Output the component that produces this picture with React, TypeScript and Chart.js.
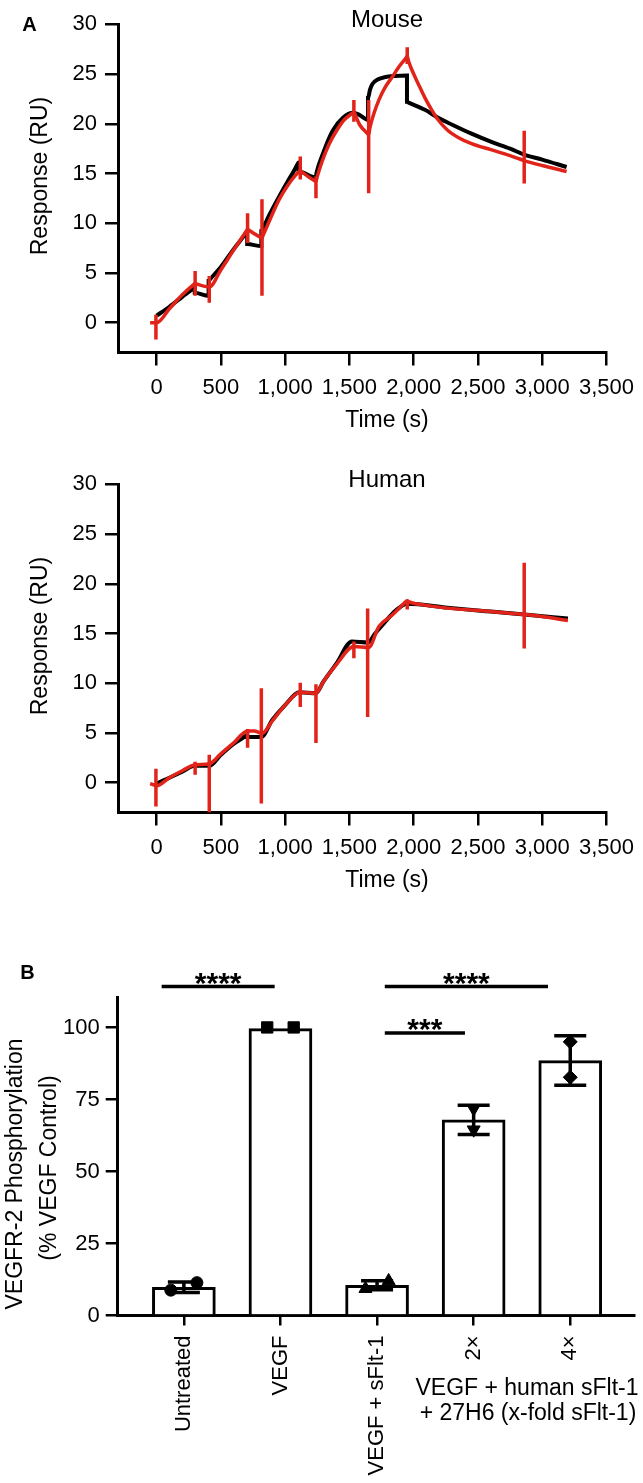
import React, { useEffect, useRef } from 'react';
import { Chart, registerables } from 'chart.js';

Chart.register(...registerables);

const FONT_FAMILY = '"Liberation Sans", Arial, Helvetica, sans-serif';
const INK = '#000000';
const FIT_RED = '#e2231a';

// ---------------- Panel A : Mouse ----------------
const mouseObsTime = [0, 100, 200, 290, 297, 297, 405, 405, 415, 500, 600, 695, 705, 705, 815, 815, 830, 880, 950, 1020, 1066, 1095, 1105, 1105, 1238, 1245, 1300, 1370, 1450, 1530, 1577, 1645, 1645, 1660, 1679, 1720, 1781, 1850, 1948, 1948, 1965, 2088, 2190, 2300, 2450, 2600, 2750, 2860, 3000, 3190];
const mouseObsResp = [0.7, 1.6, 2.6, 3.5, 3.6, 3.0, 2.7, 4.2, 4.35, 5.6, 7.4, 9.0, 9.2, 7.9, 7.7, 9.2, 9.55, 10.9, 12.6, 14.2, 15.2, 15.9, 16.1, 15.2, 14.6, 15.1, 17.2, 19.3, 20.6, 21.1, 20.9, 20.4, 22.6, 23.4, 24.0, 24.45, 24.7, 24.8, 24.85, 22.2, 22.1, 21.4, 20.6, 19.9, 19.0, 18.2, 17.5, 16.9, 16.4, 15.65];
const mouseFitTime = [-50, 0, 100, 200, 290, 300, 310, 410, 500, 600, 700, 708, 716, 812, 820, 828, 880, 950, 1020, 1080, 1110, 1118, 1126, 1232, 1240, 1250, 1290, 1340, 1400, 1460, 1527, 1535, 1545, 1580, 1642, 1650, 1660, 1690, 1730, 1780, 1833, 1890, 1940, 1950, 1960, 1990, 2040, 2088, 2140, 2190, 2260, 2350, 2450, 2600, 2750, 2860, 3000, 3190];
const mouseFitResp = [0, 0, 1.4, 2.8, 3.85, 3.95, 3.9, 3.6, 5.3, 7.3, 9.25, 9.4, 9.32, 8.55, 8.5, 8.75, 10.3, 12.3, 13.8, 14.8, 15.2, 15.3, 15.2, 14.25, 14.2, 14.7, 16.3, 17.9, 19.3, 20.4, 21.1, 21.2, 20.9, 19.9, 19.0, 18.9, 19.6, 21.0, 22.4, 23.7, 24.7, 25.8, 26.6, 26.8, 26.3, 25.3, 23.9, 22.6, 21.4, 20.4, 19.4, 18.6, 18.0, 17.4, 16.8, 16.3, 15.8, 15.2];
const mouseSpikeTime = [-5, 300, 410, 708, 820, 1118, 1240, 1535, 1650, 1950, 2860];
const mouseSpikeTop = [0.8, 5.2, 4.7, 11.0, 12.4, 16.7, 14.7, 22.4, 22.4, 27.7, 19.3];
const mouseSpikeBottom = [-1.7, 2.7, 2.0, 8.0, 2.7, 14.4, 12.5, 20.2, 13.0, 26.0, 14.0];

// ---------------- Panel A : Human ----------------
const humanObsTime = [0, 100, 200, 297, 410, 500, 600, 700, 705, 705, 815, 900, 1000, 1110, 1240, 1300, 1400, 1520, 1645, 1700, 1780, 1860, 1950, 2262, 2600, 2862, 3200];
const humanObsResp = [-0.1, 0.5, 1.1, 1.7, 1.7, 2.8, 3.9, 4.75, 4.8, 4.6, 4.6, 6.3, 7.8, 9.1, 9.0, 10.2, 12.0, 14.2, 14.1, 15.0, 16.2, 17.3, 18.0, 17.6, 17.2, 16.9, 16.5];
const humanFitTime = [-50, 0, 100, 200, 300, 410, 500, 600, 708, 760, 820, 900, 1000, 1118, 1240, 1300, 1400, 1535, 1650, 1730, 1833, 1940, 1950, 1960, 2088, 2262, 2600, 2862, 3000, 3200];
const humanFitResp = [-0.1, -0.3, 0.5, 1.2, 1.8, 1.9, 2.9, 4.0, 5.2, 5.2, 4.95, 6.2, 7.8, 9.1, 9.0, 10.2, 11.9, 13.7, 13.6, 15.7, 16.85, 18.2, 18.3, 18.2, 17.85, 17.55, 17.2, 16.9, 16.7, 16.3];
const humanSpikeTime = [-5, 300, 410, 708, 815, 1118, 1240, 1535, 1642, 1950, 2860];
const humanSpikeTop = [1.4, 2.1, 2.8, 5.4, 9.5, 10.05, 9.9, 14.2, 17.5, 18.4, 22.1];
const humanSpikeBottom = [-2.4, 0.8, -3.0, 3.5, -2.1, 7.6, 4.0, 12.5, 6.6, 17.4, 13.5];

const timeTicks = [0, 500, 1000, 1500, 2000, 2500, 3000, 3500];
const responseTicks = [0, 5, 10, 15, 20, 25, 30];

// ---------------- Panel B ----------------
const groupLabels = ['Untreated', 'VEGF', 'VEGF + sFlt-1', '2×', '4×'];
const groupMeans = [9.8, 99.6, 10.5, 67.9, 88.5];
const groupSD = [1.8, 0, 1.6, 5.1, 8.6];
const replicateOne = [8.8, 100, 9.3, 71.8, 95.0];
const replicateTwo = [11.4, 100, 12.0, 64.5, 82.7];
const replicateStyle = ['circle', 'rect', 'triangle', 'triangle', 'rectRot'];
const replicateRotation = [0, 0, 0, 180, 0];
const replicateSpread = [0.135, 0.137, 0.12, 0, 0];
const phosphoTicks = [0, 25, 50, 75, 100];
const sigFrom = [-0.23, 2.08, 2.08];
const sigTo = [0.94, 3.77, 2.91];
const sigLevel = [114.2, 114.2, 98.1];
const sigText = ['****', '****', '***'];

type TextItem = { text: string; x: number; y: number; size: number; bold?: boolean; rotate?: number };

function textPlugin(items: TextItem[]) {
  return {
    id: 'panelTexts',
    afterDraw(chart: any) {
      const ctx = chart.ctx;
      items.forEach((it) => {
        ctx.save();
        ctx.font = `${it.bold ? 'bold ' : ''}${it.size}px ${FONT_FAMILY}`;
        ctx.fillStyle = INK;
        ctx.textAlign = 'center';
        ctx.textBaseline = 'middle';
        ctx.translate(it.x, it.y);
        if (it.rotate) ctx.rotate(it.rotate);
        ctx.fillText(it.text, 0, 0);
        ctx.restore();
      });
    },
  };
}

const fmt = (v: number) => String(v).replace(/\B(?=(\d{3})+(?!\d))/g, ',');

const axisGrid = (len: number) => ({
  display: true,
  drawOnChartArea: false,
  drawTicks: true,
  tickLength: len,
  color: INK,
  lineWidth: 2.5,
  offset: false,
});
const axisBorder = { display: true, color: INK, width: 3 };
const tickFont = { family: FONT_FAMILY, size: 22 };

function sensorgramConfig(
  obsT: number[], obsV: number[], fitT: number[], fitV: number[],
  spT: number[], spTop: number[], spBot: number[], title: string, panelLetter: string | null
): any {
  const obs = obsT.map((t, i) => ({ x: t, y: obsV[i] }));
  const fit = fitT.map((t, i) => ({ x: t, y: fitV[i] }));
  const spikes: any[] = [];
  spT.forEach((t, i) => {
    spikes.push({ x: t, y: spTop[i] }, { x: t, y: spBot[i] }, { x: t, y: null });
  });
  const texts: TextItem[] = [
    { text: title, x: 387, y: 20, size: 24 },
    { text: 'Response (RU)', x: 41, y: 176, size: 23, rotate: -Math.PI / 2 },
    { text: 'Time (s)', x: 387, y: 421, size: 23 },
  ];
  if (panelLetter) texts.push({ text: panelLetter, x: 29.5, y: 25, size: 20, bold: true });
  return {
    type: 'line',
    data: {
      datasets: [
        { data: spikes, borderColor: FIT_RED, borderWidth: 3.5, pointRadius: 0, tension: 0, spanGaps: false, order: 0, borderCapStyle: 'butt' },
        { data: fit, borderColor: FIT_RED, borderWidth: 3.5, pointRadius: 0, cubicInterpolationMode: 'monotone', order: 1 },
        { data: obs, borderColor: INK, borderWidth: 4, pointRadius: 0, cubicInterpolationMode: 'monotone', order: 2 },
      ],
    },
    options: {
      responsive: false,
      maintainAspectRatio: false,
      animation: false,
      events: [],
      layout: { padding: { top: 24.3, right: 29, bottom: 0, left: 0 } },
      plugins: { legend: { display: false }, tooltip: { enabled: false }, title: { display: false } },
      scales: {
        x: {
          type: 'linear',
          min: -300,
          max: 3500,
          afterBuildTicks: (s: any) => { s.ticks = timeTicks.map((v) => ({ value: v })); },
          afterFit: (s: any) => { s.height = 107.5; },
          ticks: { autoSkip: false, minRotation: 0, maxRotation: 0, padding: 9, color: INK, font: tickFont, callback: (v: any) => fmt(Number(v)) },
          grid: axisGrid(13),
          border: axisBorder,
        },
        y: {
          type: 'linear',
          min: -3,
          max: 30,
          afterBuildTicks: (s: any) => { s.ticks = responseTicks.map((v) => ({ value: v })); },
          afterFit: (s: any) => { s.width = 118; },
          ticks: { padding: 8, color: INK, font: tickFont, callback: (v: any) => String(v) },
          grid: axisGrid(13),
          border: axisBorder,
        },
      },
    },
    plugins: [textPlugin(texts)],
  };
}

const errorBarPlugin = {
  id: 'errorBars',
  afterDatasetDraw(chart: any, args: any) {
    if (args.meta.type !== 'bar') return;
    const { ctx } = chart;
    const xs = chart.scales.x;
    const ys = chart.scales.y;
    ctx.save();
    ctx.strokeStyle = INK;
    ctx.lineWidth = 3.5;
    groupMeans.forEach((m, i) => {
      const sd = groupSD[i];
      if (!sd) return;
      const x = xs.getPixelForValue(i);
      const yTop = ys.getPixelForValue(m + sd);
      const yBot = ys.getPixelForValue(m - sd);
      ctx.beginPath();
      ctx.moveTo(x, yTop);
      ctx.lineTo(x, yBot);
      ctx.moveTo(x - 16, yTop);
      ctx.lineTo(x + 16, yTop);
      ctx.moveTo(x - 16, yBot);
      ctx.lineTo(x + 16, yBot);
      ctx.stroke();
    });
    ctx.restore();
  },
};

const significancePlugin = {
  id: 'significance',
  afterDraw(chart: any) {
    const { ctx } = chart;
    const xs = chart.scales.x;
    const ys = chart.scales.y;
    ctx.save();
    ctx.strokeStyle = INK;
    ctx.fillStyle = INK;
    ctx.lineWidth = 3.5;
    ctx.font = `bold 30px ${FONT_FAMILY}`;
    ctx.textAlign = 'center';
    ctx.textBaseline = 'alphabetic';
    sigText.forEach((label, i) => {
      const x1 = xs.getPixelForValue(sigFrom[i]);
      const x2 = xs.getPixelForValue(sigTo[i]);
      const y = ys.getPixelForValue(sigLevel[i]);
      ctx.beginPath();
      ctx.moveTo(x1, y);
      ctx.lineTo(x2, y);
      ctx.stroke();
      ctx.fillText(label, (x1 + x2) / 2, y + 6);
    });
    ctx.restore();
  },
};

function phosphoConfig(): any {
  const bars = groupMeans.map((m, i) => ({ x: i, y: m }));
  const pts: any[] = [];
  const styles: string[] = [];
  const rots: number[] = [];
  const radii: number[] = [];
  const sizeFor: Record<string, number> = { circle: 6, rect: 8, triangle: 7.5, rectRot: 7 };
  groupMeans.forEach((_, i) => {
    pts.push({ x: i - replicateSpread[i], y: replicateOne[i] }, { x: i + replicateSpread[i], y: replicateTwo[i] });
    styles.push(replicateStyle[i], replicateStyle[i]);
    rots.push(replicateRotation[i], replicateRotation[i]);
    radii.push(sizeFor[replicateStyle[i]], sizeFor[replicateStyle[i]]);
  });
  const texts: TextItem[] = [
    { text: 'B', x: 27.5, y: 53, size: 20, bold: true },
    { text: 'VEGFR-2 Phosphorylation', x: 16, y: 254, size: 23, rotate: -Math.PI / 2 },
    { text: '(% VEGF Control)', x: 50, y: 248, size: 23, rotate: -Math.PI / 2 },
    { text: 'VEGF + human sFlt-1', x: 527, y: 469, size: 23 },
    { text: '+ 27H6 (x-fold sFlt-1)', x: 528, y: 494, size: 23 },
  ];
  return {
    type: 'bar',
    data: {
      datasets: [
        {
          type: 'bar', data: bars, backgroundColor: '#ffffff', borderColor: INK, borderWidth: 3,
          borderSkipped: 'start', barThickness: 63, order: 1,
        },
        {
          type: 'scatter', data: pts, pointStyle: styles, pointRotation: rots, pointRadius: radii,
          backgroundColor: INK, borderColor: INK, borderWidth: 1, showLine: false, order: 0,
        },
      ],
    },
    options: {
      responsive: false,
      maintainAspectRatio: false,
      animation: false,
      events: [],
      layout: { padding: { top: 77.2, right: 0, bottom: 0, left: 0 } },
      plugins: { legend: { display: false }, tooltip: { enabled: false }, title: { display: false } },
      scales: {
        x: {
          type: 'linear',
          offset: false,
          min: -0.685,
          max: 4.66,
          afterBuildTicks: (s: any) => { s.ticks = groupLabels.map((_, i) => ({ value: i })); },
          afterFit: (s: any) => { s.height = 167.5; },
          ticks: { autoSkip: false, minRotation: 90, maxRotation: 90, padding: 10, color: INK, font: tickFont, callback: (v: any) => groupLabels[Math.round(Number(v))] },
          grid: axisGrid(10),
          border: axisBorder,
        },
        y: {
          type: 'linear',
          min: 0,
          max: 110.5,
          afterBuildTicks: (s: any) => { s.ticks = phosphoTicks.map((v) => ({ value: v })); },
          afterFit: (s: any) => { s.width = 117.7; },
          ticks: { padding: 6, color: INK, font: tickFont, callback: (v: any) => String(v) },
          grid: axisGrid(12),
          border: axisBorder,
        },
      },
    },
    plugins: [errorBarPlugin, significancePlugin, textPlugin(texts)],
  };
}

export default function App() {
  const mouseRef = useRef<HTMLCanvasElement>(null);
  const humanRef = useRef<HTMLCanvasElement>(null);
  const phosRef = useRef<HTMLCanvasElement>(null);

  useEffect(() => {
    const charts = [
      new Chart(mouseRef.current!, sensorgramConfig(mouseObsTime, mouseObsResp, mouseFitTime, mouseFitResp, mouseSpikeTime, mouseSpikeTop, mouseSpikeBottom, 'Mouse', 'A')),
      new Chart(humanRef.current!, sensorgramConfig(humanObsTime, humanObsResp, humanFitTime, humanFitResp, humanSpikeTime, humanSpikeTop, humanSpikeBottom, 'Human', null)),
      new Chart(phosRef.current!, phosphoConfig()),
    ];
    return () => charts.forEach((c) => c.destroy());
  }, []);

  return (
    <div style={{ position: 'absolute', left: 0, top: 0, width: 643, height: 1483, background: '#ffffff' }}>
      <canvas ref={mouseRef} width={643} height={460} style={{ position: 'absolute', left: 0, top: 0 }} />
      <canvas ref={humanRef} width={643} height={460} style={{ position: 'absolute', left: 0, top: 460 }} />
      <canvas ref={phosRef} width={643} height={563} style={{ position: 'absolute', left: 0, top: 920 }} />
    </div>
  );
}
